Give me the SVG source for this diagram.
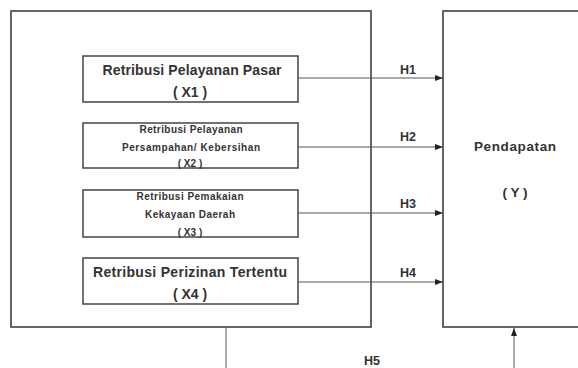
<svg xmlns="http://www.w3.org/2000/svg" width="578" height="368" viewBox="0 0 578 368">
<defs>
<marker id="ah" markerWidth="8" markerHeight="6" refX="8" refY="3" orient="auto" markerUnits="userSpaceOnUse">
<path d="M0,0 L8,3 L0,6 Z" fill="#222"/>
</marker>
<style>
.frame{fill:#fff;stroke:#555;stroke-width:1.8}
.box{fill:#fff;stroke:#444;stroke-width:1.5}
.ln{stroke:#555;stroke-width:1;fill:none}
text{font-family:"Liberation Sans",Arial,sans-serif;fill:#333;text-anchor:middle}
.t{font-size:14px;font-weight:bold}
.s{font-size:10px;font-weight:bold}
.h{font-size:12.5px;font-weight:bold}
.y{font-size:13.5px;font-weight:bold}
</style>
</defs>
<rect width="578" height="368" fill="#fff"/>
<g id="outer"><rect class="frame" x="11" y="11" width="360" height="316"/></g>
<g id="Y">
<rect class="frame" x="443" y="11" width="150" height="316"/>
<text class="y" x="515" y="151" textLength="82">Pendapatan</text>
<text class="y" x="515" y="197">( Y )</text>
</g>
<g id="X1">
<rect class="box" x="83" y="56" width="215" height="46"/>
<text class="t" x="192" y="75" textLength="179">Retribusi Pelayanan Pasar</text>
<text class="t" x="190" y="97">( X1 )</text>
</g>
<g id="X2">
<rect class="box" x="83" y="123" width="215" height="45"/>
<text class="s" x="191" y="133" textLength="103">Retribusi Pelayanan</text>
<text class="s" x="191" y="151" textLength="138">Persampahan/ Kebersihan</text>
<text class="s" x="190" y="167">( X2 )</text>
</g>
<g id="X3">
<rect class="box" x="83" y="190" width="215" height="47"/>
<text class="s" x="190" y="200" textLength="107">Retribusi Pemakaian</text>
<text class="s" x="190" y="218" textLength="90">Kekayaan Daerah</text>
<text class="s" x="190" y="236">( X3 )</text>
</g>
<g id="X4">
<rect class="box" x="83" y="258" width="215" height="46"/>
<text class="t" x="190" y="277" textLength="194">Retribusi Perizinan Tertentu</text>
<text class="t" x="190" y="299">( X4 )</text>
</g>
<g id="connectors">
<line class="ln" x1="298" y1="78" x2="443" y2="78" marker-end="url(#ah)"/>
<line class="ln" x1="298" y1="147" x2="443" y2="147" marker-end="url(#ah)"/>
<line class="ln" x1="298" y1="213" x2="443" y2="213" marker-end="url(#ah)"/>
<line class="ln" x1="298" y1="282" x2="443" y2="282" marker-end="url(#ah)"/>
<line class="ln" x1="226" y1="327" x2="226" y2="368"/>
<line class="ln" x1="514" y1="368" x2="514" y2="328" marker-end="url(#ah)"/>
<text class="h" x="408" y="74">H1</text>
<text class="h" x="408" y="141">H2</text>
<text class="h" x="408" y="208">H3</text>
<text class="h" x="408" y="277">H4</text>
<text class="h" x="372" y="365">H5</text>
</g>
</svg>
